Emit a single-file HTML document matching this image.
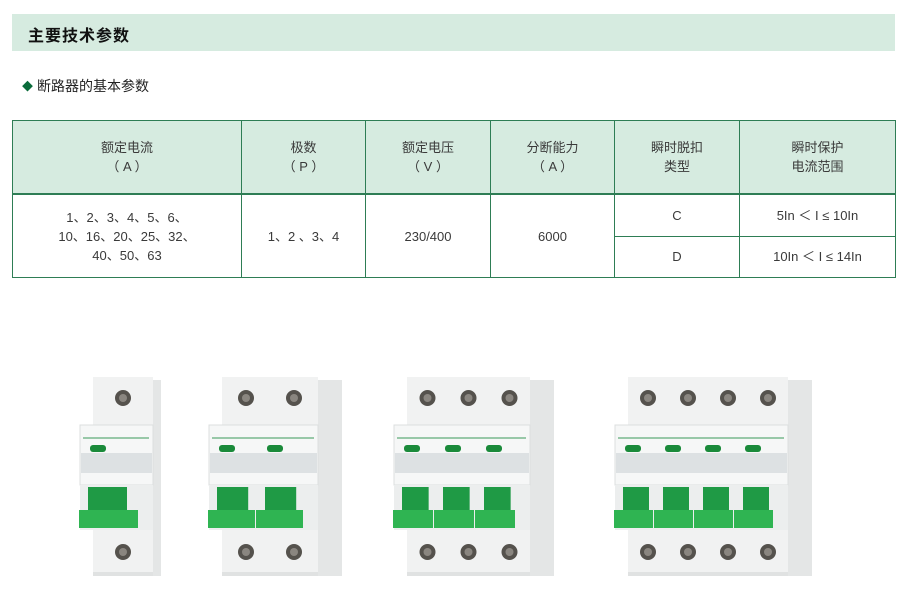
<!DOCTYPE html>
<html><head><meta charset="utf-8"><style>
body{margin:0;width:912px;height:615px;background:#fff;position:relative;overflow:hidden;font-family:"Liberation Sans","Noto Sans CJK SC",sans-serif;}
.hd{position:absolute;left:12px;top:14px;width:883px;height:37px;background:#d6ebe0;}
.hd span{position:absolute;left:16px;top:8px;font-size:16px;font-weight:bold;color:#111;letter-spacing:1px}
.sub{position:absolute;left:22px;top:76px;font-size:14px;color:#222}
.sub b{color:#0a6b3a;font-size:11px;margin-right:4px;position:relative;top:-1px}
table{position:absolute;left:12px;top:120px;border-collapse:collapse;width:884px;}
td{border:1px solid #2e7d55;text-align:center;font-size:13px;color:#3a3a3a;line-height:19px;padding:0}
tr.h td{background:#d6ebe0;height:72px;border-bottom:2px solid #2e7d55}
</style></head><body>
<div class="hd"><span>主要技术参数</span></div>
<div class="sub"><b>◆</b>断路器的基本参数</div>
<table>
<tr class="h"><td style="width:228px">额定电流<br>（ A ）</td><td style="width:123px">极数<br>（ P ）</td><td style="width:124px">额定电压<br>（ V ）</td><td style="width:123px">分断能力<br>（ A ）</td><td style="width:124px">瞬时脱扣<br>类型</td><td>瞬时保护<br>电流范围</td></tr>
<tr><td rowspan="2" style="height:82px">1、2、3、4、5、6、<br>10、16、20、25、32、<br>40、50、63</td><td rowspan="2">1、2 、3、4</td><td rowspan="2">230/400</td><td rowspan="2">6000</td><td style="height:40px">C</td><td>5In ＜ I ≤ 10In</td></tr>
<tr><td style="height:40px">D</td><td>10In ＜ I ≤ 14In</td></tr>
</table>
<svg id="s" width="912" height="615" style="position:absolute;left:0;top:0"></svg>
<script>
var B=[[93,1,60],[222,2,48],[407,3,41],[628,4,40]],h='';
B.forEach(function(b){var L=b[0],n=b[1],w=b[2],W=n*w,R=L+W;
h+='<rect x="'+R+'" y="380" width="'+(n==1?8:24)+'" height="196" fill="#e4e6e6"/>';
h+='<rect x="'+L+'" y="377" width="'+W+'" height="52" fill="#f1f2f2"/>';
h+='<rect x="'+L+'" y="528" width="'+W+'" height="48" fill="#f1f2f2"/>';
h+='<rect x="'+L+'" y="572" width="'+W+'" height="4" fill="#e0e2e2"/>';
h+='<rect x="'+(L-13)+'" y="425" width="'+(W+13)+'" height="60" fill="#f6f7f7" stroke="#dcdfdf"/>';
h+='<rect x="'+(L-12)+'" y="453" width="'+(W+11)+'" height="20" fill="#dde1e3"/>';
h+='<line x1="'+(L-10)+'" y1="438" x2="'+(R-4)+'" y2="438" stroke="#3a9a5a" stroke-width="1"/>';
h+='<rect x="'+(L-13)+'" y="485" width="'+(W+13)+'" height="45" fill="#eceeee"/>';
for(var i=0;i<n;i++){var c=L+w*i+w/2;
h+='<circle cx="'+c+'" cy="398" r="8" fill="#55524d"/><circle cx="'+c+'" cy="398" r="4" fill="#8a8680"/>';
h+='<circle cx="'+c+'" cy="552" r="8" fill="#55524d"/><circle cx="'+c+'" cy="552" r="4" fill="#8a8680"/>';
h+='<rect x="'+(L-7+w*i+4)+'" y="445" width="16" height="7" rx="3" fill="#1a8a3a"/>';
h+='<rect x="'+(L-13+w*i+8)+'" y="487" width="'+(w*0.65)+'" height="26" fill="#1f9a45"/>';
h+='<rect x="'+(L-15+w*i+1)+'" y="510" width="'+(w-1)+'" height="18" fill="#2fb452"/>';}
});
document.getElementById('s').innerHTML=h;
</script>
</body></html>
